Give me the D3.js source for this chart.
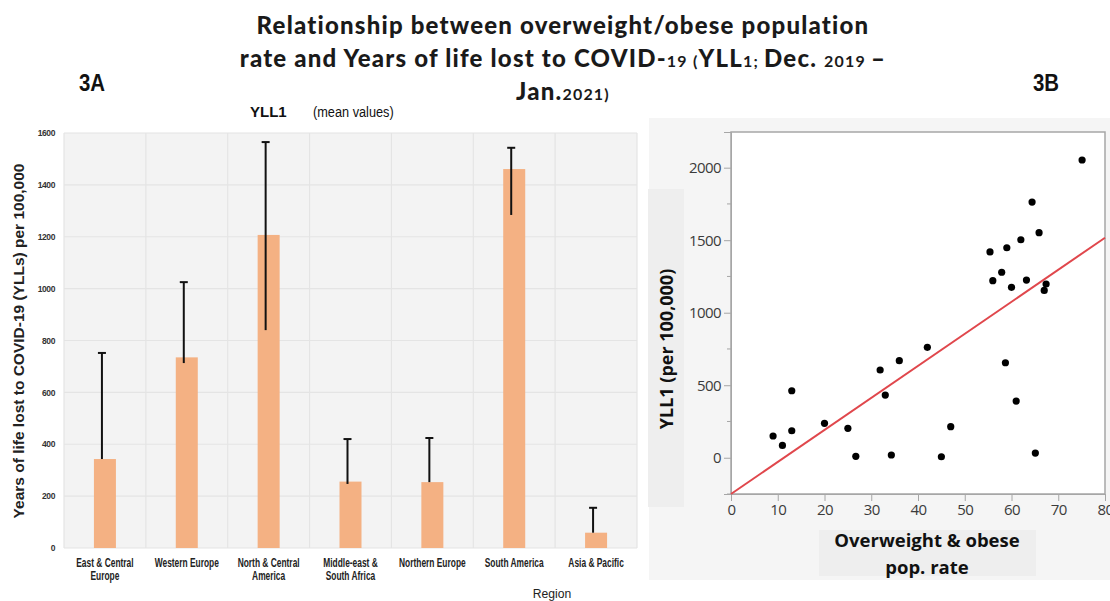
<!DOCTYPE html>
<html>
<head>
<meta charset="utf-8">
<script src="https://cdn.jsdelivr.net/npm/d3@7"></script>
<style>
  body { margin: 0; background: #fff; }
  svg { display: block; }
</style>
</head>
<body>
<div id="chart"></div>
<script>
// --- data ---
var regions = [
  ["East & Central", "Europe"],
  ["Western Europe"],
  ["North & Central", "America"],
  ["Middle-east &", "South Africa"],
  ["Northern Europe"],
  ["South America"],
  ["Asia & Pacific"]
];
var yll_mean = [343, 735, 1207, 256, 254, 1461, 59];
var err_high = [752, 1025, 1565, 420, 424, 1543, 155];
var err_low = [343, 713, 840, 247, 254, 1284, 59];
var bar_ticks = [0, 200, 400, 600, 800, 1000, 1200, 1400, 1600];

var obese_rate = [75.1, 64.4, 65.9, 62.0, 55.4, 59.0, 57.9, 56.0, 60.0, 63.2, 67.4, 67.0,
                  42.0, 36.0, 58.7, 31.9, 9.0, 11.0, 13.0, 13.0, 20.0, 25.0, 26.7, 33.0,
                  34.3, 45.0, 47.0, 61.0, 65.1];
var yll_country = [2053, 1763, 1552, 1503, 1419, 1448, 1279, 1221, 1175, 1225, 1198, 1154,
                   761, 669, 655, 605, 150, 85, 462, 186, 237, 203, 10, 432,
                   19, 7, 214, 391, 32];
var fit_line = [{ x: 0, y: -250 }, { x: 80, y: 1517 }];
var x_ticks = [0, 10, 20, 30, 40, 50, 60, 70, 80];
var y_ticks = [0, 500, 1000, 1500, 2000];
var y_minor = [-250, 250, 750, 1250, 1750];

var W = 1110, H = 601;
var svg = d3.select("#chart").append("svg").attr("width", W).attr("height", H);
var narrow = "'Liberation Sans', Arial, sans-serif";

// --- main title ---
var title = svg.append("g").attr("font-family", "Lato, 'DejaVu Sans', sans-serif").attr("font-weight", 900)
  .attr("fill", "#1a1a1a").attr("text-anchor", "middle").attr("font-size", 24).attr("letter-spacing", 1.2);
title.append("text").attr("x", 563).attr("y", 34).text("Relationship between overweight/obese population");
var t2 = title.append("text").attr("x", 563).attr("y", 67);
t2.append("tspan").text("rate and Years of life lost to COVID-");
t2.append("tspan").attr("font-size", 16).attr("font-weight", 700).text("19 (");
t2.append("tspan").text("YLL");
t2.append("tspan").attr("font-size", 16).attr("font-weight", 700).text("1; ");
t2.append("tspan").text("Dec. ");
t2.append("tspan").attr("font-size", 16).attr("font-weight", 700).text("2019 ");
t2.append("tspan").text("\u2013");
var t3 = title.append("text").attr("x", 563).attr("y", 100);
t3.append("tspan").text("Jan.");
t3.append("tspan").attr("font-size", 16).attr("font-weight", 700).text("2021)");

[["3A", 92], ["3B", 1046]].forEach(function(p) {
  svg.append("g").attr("transform", "translate(" + p[1] + ",91) scale(0.85,1)")
    .append("text").attr("text-anchor", "middle").attr("font-family", narrow)
    .attr("font-weight", "bold").attr("font-size", 24).attr("fill", "#111").text(p[0]);
});

// ================= 3A bar chart =================
var bx0 = 64, bx1 = 637, by0 = 133, by1 = 548;
var xb = d3.scaleBand().domain(d3.range(regions.length)).range([bx0, bx1]).paddingInner(0).paddingOuter(0);
var yb = d3.scaleLinear().domain([0, 1600]).range([by1, by0]);

svg.append("rect").attr("x", bx0).attr("y", by0).attr("width", bx1 - bx0).attr("height", by1 - by0)
  .attr("fill", "#f3f3f3");

var grid = svg.append("g").attr("stroke", "#e4e4e4").attr("stroke-width", 1.2);
grid.selectAll("line.h").data(bar_ticks).enter().append("line")
  .attr("x1", bx0).attr("x2", bx1).attr("y1", function(d) { return yb(d); }).attr("y2", function(d) { return yb(d); });
grid.selectAll("line.v").data(d3.range(regions.length + 1)).enter().append("line")
  .attr("y1", by0).attr("y2", by1)
  .attr("x1", function(d) { return bx0 + d * xb.step(); }).attr("x2", function(d) { return bx0 + d * xb.step(); });

var yAxisB = svg.append("g").attr("transform", "translate(" + (bx0 - 6) + ",0)")
  .call(d3.axisLeft(yb).tickValues(bar_ticks).tickSize(0).tickFormat(d3.format("d")));
yAxisB.select(".domain").remove();
yAxisB.selectAll("text").attr("font-family", narrow).attr("letter-spacing", -0.4)
  .attr("font-weight", "bold").attr("font-size", 8.5).attr("fill", "#333");

var barW = 22;
svg.append("g").selectAll("rect").data(yll_mean).enter().append("rect")
  .attr("x", function(d, i) { return xb(i) + xb.bandwidth() / 2 - barW / 2; })
  .attr("y", function(d) { return yb(d); })
  .attr("width", barW)
  .attr("height", function(d) { return by1 - yb(d); })
  .attr("fill", "#f4b183");

var errs = svg.append("g").attr("stroke", "#111").attr("stroke-width", 2);
yll_mean.forEach(function(d, i) {
  var cx = xb(i) + xb.bandwidth() / 2 - 3;
  errs.append("line").attr("x1", cx).attr("x2", cx).attr("y1", yb(err_high[i])).attr("y2", yb(err_low[i]));
  errs.append("line").attr("x1", cx - 4).attr("x2", cx + 4).attr("y1", yb(err_high[i])).attr("y2", yb(err_high[i]));
});

var xlab = svg.append("g");
regions.forEach(function(lines, i) {
  var t = xlab.append("g")
    .attr("transform", "translate(" + (xb(i) + xb.bandwidth() / 2) + ",567) scale(0.7,1)")
    .append("text").attr("font-family", narrow).attr("font-weight", "bold").attr("font-size", 12)
    .attr("fill", "#222").attr("text-anchor", "middle");
  lines.forEach(function(l, j) {
    t.append("tspan").attr("x", 0).attr("y", j * 13.5).text(l);
  });
});

svg.append("g").attr("transform", "translate(552,598) scale(0.9,1)")
  .append("text").attr("text-anchor", "middle").attr("font-family", narrow)
  .attr("font-size", 13.5).attr("fill", "#222").text("Region");

svg.append("text").attr("transform", "translate(24,341) rotate(-90)").attr("text-anchor", "middle")
  .attr("font-family", narrow).attr("font-weight", "bold")
  .attr("font-size", 15.5).attr("fill", "#222").text("Years of life lost to COVID-19 (YLLs) per 100,000");

var st = svg.append("text").attr("y", 117).attr("fill", "#111").attr("font-family", narrow);
st.append("tspan").attr("x", 250).attr("font-weight", "bold").attr("font-size", 15).text("YLL1");
svg.append("g").attr("transform", "translate(313,117) scale(0.85,1)")
  .append("text").attr("font-family", narrow).attr("font-size", 15).attr("fill", "#111").text("(mean values)");

// ================= 3B scatter =================
var sx0 = 731, sx1 = 1105, sy0 = 132, sy1 = 494;
svg.append("rect").attr("x", 649).attr("y", 118).attr("width", W - 649).attr("height", 580 - 118).attr("fill", "#f5f5f5");
svg.append("rect").attr("x", 648).attr("y", 189).attr("width", 36).attr("height", 318).attr("fill", "#eeeeee");
svg.append("rect").attr("x", 819).attr("y", 530).attr("width", 217).attr("height", 46).attr("fill", "#eeeeee");

var xs = d3.scaleLinear().domain([0, 80]).range([sx0, sx1]);
var ys = d3.scaleLinear().domain([-250, 2246]).range([sy1, sy0]);

svg.append("rect").attr("x", sx0).attr("y", sy0).attr("width", sx1 - sx0).attr("height", sy1 - sy0)
  .attr("fill", "#fff").attr("stroke", "#a6a6a6").attr("stroke-width", 1.5);

var tickFont = "'Open Sans', 'Noto Sans', sans-serif";
var yAxisS = svg.append("g").attr("transform", "translate(" + sx0 + ",0)")
  .call(d3.axisLeft(ys).tickValues(y_ticks).tickSize(7).tickPadding(3).tickFormat(d3.format("d")));
yAxisS.select(".domain").attr("stroke", "#a6a6a6");
yAxisS.selectAll(".tick line").attr("stroke", "#a6a6a6");
yAxisS.selectAll("text").attr("font-family", tickFont).attr("font-size", 15).attr("fill", "#3b3b3b")
  .attr("letter-spacing", -0.6);
svg.append("g").attr("stroke", "#a6a6a6").selectAll("line").data(y_minor).enter().append("line")
  .attr("x1", sx0 - 4).attr("x2", sx0).attr("y1", function(d) { return ys(d); }).attr("y2", function(d) { return ys(d); });

var xAxisS = svg.append("g").attr("transform", "translate(0," + sy1 + ")")
  .call(d3.axisBottom(xs).tickValues(x_ticks).tickSize(7).tickPadding(3));
xAxisS.select(".domain").attr("stroke", "#a6a6a6");
xAxisS.selectAll(".tick line").attr("stroke", "#a6a6a6");
xAxisS.selectAll("text").attr("font-family", tickFont).attr("font-size", 15).attr("fill", "#3b3b3b")
  .attr("letter-spacing", -0.6);

svg.append("line")
  .attr("x1", xs(fit_line[0].x)).attr("y1", ys(fit_line[0].y))
  .attr("x2", xs(fit_line[1].x)).attr("y2", ys(fit_line[1].y))
  .attr("stroke", "#e0474c").attr("stroke-width", 2);

svg.append("g").selectAll("circle").data(obese_rate).enter().append("circle")
  .attr("cx", function(d) { return xs(d); })
  .attr("cy", function(d, i) { return ys(yll_country[i]); })
  .attr("r", 3.6).attr("fill", "#000");

svg.append("text").attr("transform", "translate(673,349) rotate(-90)").attr("text-anchor", "middle")
  .attr("font-family", "'Open Sans', sans-serif").attr("font-weight", "bold")
  .attr("font-size", 18).attr("fill", "#111").text("YLL1 (per 100,000)");

var xl = svg.append("text").attr("text-anchor", "middle").attr("font-family", "'Open Sans', sans-serif")
  .attr("font-weight", "bold").attr("font-size", 18.5).attr("fill", "#111");
xl.append("tspan").attr("x", 927).attr("y", 547).text("Overweight & obese");
xl.append("tspan").attr("x", 927).attr("y", 574).text("pop. rate");
</script>
</body>
</html>
